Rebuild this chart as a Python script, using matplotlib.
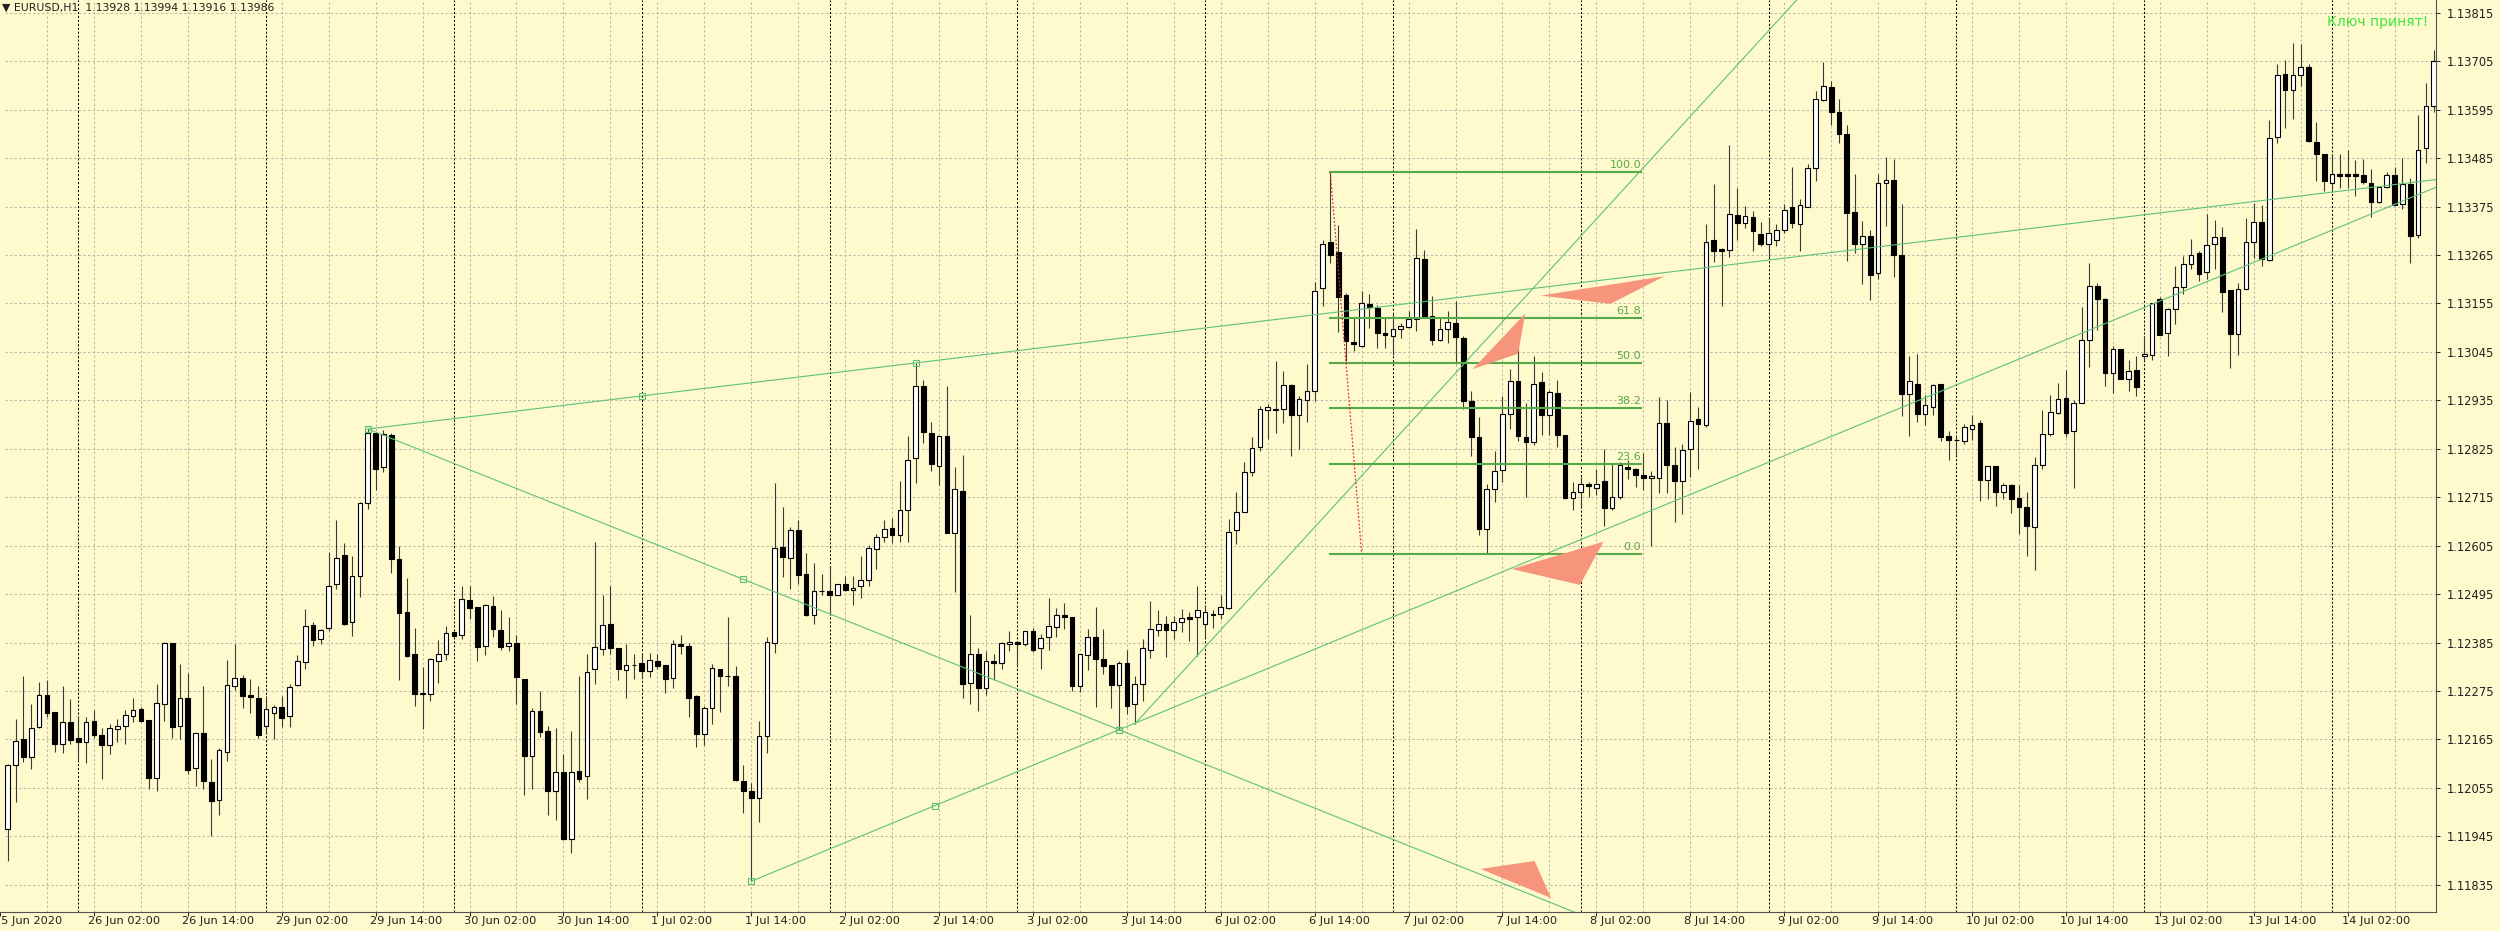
import numpy as np
import matplotlib.pyplot as plt
from matplotlib.patches import Polygon
import matplotlib.transforms as mtransforms

#-------------- data (EURUSD H1, 25 Jun 15:00 .. 14 Jul 12:00) --------------
opens = [
    1.11961, 1.12107, 1.12165, 1.12125, 1.12194, 1.12267, 1.12228, 1.12154, 1.12205, 1.12168,
    1.12160, 1.12208, 1.12174, 1.12152, 1.12188, 1.12196, 1.12219, 1.12234, 1.12209, 1.12078,
    1.12245, 1.12384, 1.12196, 1.12260, 1.12101, 1.12180, 1.12068, 1.12027, 1.12137, 1.12287,
    1.12305, 1.12265, 1.12260, 1.12196, 1.12226, 1.12238, 1.12219, 1.12288, 1.12341, 1.12424,
    1.12394, 1.12417, 1.12517, 1.12583, 1.12432, 1.12537, 1.12702, 1.12860, 1.12783, 1.12857,
    1.12575, 1.12455, 1.12358, 1.12269, 1.12269, 1.12343, 1.12360, 1.12409, 1.12402, 1.12481,
    1.12466, 1.12377, 1.12469, 1.12414, 1.12377, 1.12383, 1.12302, 1.12127, 1.12229, 1.12185,
    1.12047, 1.12090, 1.11939, 1.12094, 1.12081, 1.12326, 1.12371, 1.12427, 1.12373, 1.12322,
    1.12334, 1.12339, 1.12320, 1.12343, 1.12333, 1.12304, 1.12382, 1.12378, 1.12263, 1.12177,
    1.12236, 1.12325, 1.12310, 1.12308, 1.12071, 1.12049, 1.12031, 1.12173, 1.12383, 1.12602,
    1.12576, 1.12640, 1.12540, 1.12448, 1.12503, 1.12503, 1.12494, 1.12517, 1.12505, 1.12513,
    1.12527, 1.12598, 1.12624, 1.12646, 1.12629, 1.12685, 1.12803, 1.12967, 1.12862, 1.12786,
    1.12853, 1.12634, 1.12730, 1.12294, 1.12359, 1.12282, 1.12343, 1.12339, 1.12382, 1.12387,
    1.12381, 1.12412, 1.12372, 1.12398, 1.12420, 1.12447, 1.12443, 1.12286, 1.12356, 1.12397,
    1.12347, 1.12333, 1.12288, 1.12339, 1.12245, 1.12290, 1.12369, 1.12413, 1.12427, 1.12413,
    1.12431, 1.12442, 1.12442, 1.12427, 1.12451, 1.12450, 1.12464, 1.12641, 1.12681, 1.12773,
    1.12830, 1.12914, 1.12916, 1.12915, 1.12970, 1.12902, 1.12936, 1.12956, 1.13191, 1.13294,
    1.13271, 1.13175, 1.13068, 1.13058, 1.13153, 1.13145, 1.13087, 1.13081, 1.13096, 1.13102,
    1.13120, 1.13256, 1.13126, 1.13071, 1.13098, 1.13110, 1.13077, 1.12934, 1.12852, 1.12643,
    1.12734, 1.12777, 1.12904, 1.12979, 1.12852, 1.12841, 1.12976, 1.12902, 1.12952, 1.12856,
    1.12714, 1.12727, 1.12746, 1.12737, 1.12751, 1.12690, 1.12716, 1.12784, 1.12778, 1.12765,
    1.12759, 1.12759, 1.12884, 1.12789, 1.12752, 1.12824, 1.12893, 1.12880, 1.13299, 1.13278,
    1.13276, 1.13356, 1.13337, 1.13352, 1.13312, 1.13290, 1.13299, 1.13322, 1.13373, 1.13335,
    1.13374, 1.13462, 1.13616, 1.13646, 1.13590, 1.13540, 1.13362, 1.13290, 1.13309, 1.13224,
    1.13429, 1.13436, 1.13264, 1.12950, 1.12972, 1.12903, 1.12920, 1.12972, 1.12854, 1.12845,
    1.12843, 1.12871, 1.12884, 1.12754, 1.12786, 1.12726, 1.12743, 1.12713, 1.12692, 1.12648,
    1.12788, 1.12858, 1.12907, 1.12941, 1.12866, 1.12929, 1.13071, 1.13194, 1.13166, 1.12996,
    1.13052, 1.12983, 1.13004, 1.13035, 1.13039, 1.13165, 1.13087, 1.13143, 1.13193, 1.13244,
    1.13269, 1.13226, 1.13290, 1.13306, 1.13186, 1.13086, 1.13188, 1.13295, 1.13339, 1.13254,
    1.13533, 1.13675, 1.13639, 1.13673, 1.13692, 1.13522, 1.13495, 1.13428, 1.13448, 1.13448,
    1.13448, 1.13446, 1.13429, 1.13386, 1.13420, 1.13446, 1.13382, 1.13427, 1.13310, 1.13509,
    1.13603,
]
highs = [
    1.12110, 1.12211, 1.12310, 1.12245, 1.12296, 1.12300, 1.12228, 1.12287, 1.12257, 1.12213,
    1.12217, 1.12232, 1.12192, 1.12199, 1.12211, 1.12232, 1.12258, 1.12239, 1.12209, 1.12292,
    1.12386, 1.12385, 1.12337, 1.12315, 1.12183, 1.12287, 1.12121, 1.12146, 1.12345, 1.12381,
    1.12311, 1.12303, 1.12287, 1.12264, 1.12243, 1.12263, 1.12292, 1.12356, 1.12462, 1.12432,
    1.12415, 1.12591, 1.12664, 1.12611, 1.12581, 1.12704, 1.12870, 1.12864, 1.12867, 1.12862,
    1.12604, 1.12532, 1.12419, 1.12330, 1.12349, 1.12391, 1.12423, 1.12410, 1.12513, 1.12513,
    1.12466, 1.12473, 1.12491, 1.12458, 1.12442, 1.12402, 1.12302, 1.12236, 1.12274, 1.12196,
    1.12190, 1.12133, 1.12185, 1.12308, 1.12358, 1.12614, 1.12494, 1.12514, 1.12373, 1.12382,
    1.12359, 1.12361, 1.12361, 1.12359, 1.12333, 1.12391, 1.12402, 1.12383, 1.12266, 1.12240,
    1.12337, 1.12325, 1.12444, 1.12332, 1.12108, 1.12065, 1.12207, 1.12397, 1.12748, 1.12693,
    1.12647, 1.12663, 1.12588, 1.12566, 1.12540, 1.12559, 1.12518, 1.12537, 1.12537, 1.12582,
    1.12606, 1.12632, 1.12664, 1.12667, 1.12753, 1.12853, 1.13020, 1.12981, 1.12886, 1.12854,
    1.12968, 1.12783, 1.12812, 1.12447, 1.12373, 1.12366, 1.12358, 1.12387, 1.12411, 1.12387,
    1.12412, 1.12418, 1.12405, 1.12486, 1.12464, 1.12475, 1.12443, 1.12360, 1.12416, 1.12465,
    1.12416, 1.12333, 1.12343, 1.12369, 1.12309, 1.12393, 1.12480, 1.12460, 1.12445, 1.12445,
    1.12462, 1.12454, 1.12513, 1.12471, 1.12460, 1.12492, 1.12666, 1.12728, 1.12794, 1.12852,
    1.12923, 1.12926, 1.13024, 1.13002, 1.12972, 1.12945, 1.13017, 1.13203, 1.13298, 1.13453,
    1.13334, 1.13178, 1.13125, 1.13184, 1.13176, 1.13151, 1.13123, 1.13134, 1.13111, 1.13139,
    1.13323, 1.13277, 1.13172, 1.13123, 1.13138, 1.13160, 1.13081, 1.12956, 1.12898, 1.12745,
    1.12821, 1.12945, 1.13006, 1.13066, 1.12930, 1.13035, 1.12999, 1.12958, 1.12982, 1.12856,
    1.12750, 1.12761, 1.12750, 1.12778, 1.12824, 1.12791, 1.12795, 1.12799, 1.12782, 1.12816,
    1.12775, 1.12942, 1.12935, 1.12829, 1.12835, 1.12954, 1.12920, 1.13335, 1.13427, 1.13280,
    1.13515, 1.13418, 1.13377, 1.13364, 1.13339, 1.13348, 1.13335, 1.13382, 1.13466, 1.13392,
    1.13471, 1.13637, 1.13703, 1.13660, 1.13620, 1.13560, 1.13450, 1.13342, 1.13322, 1.13450,
    1.13487, 1.13483, 1.13381, 1.13035, 1.13041, 1.12947, 1.12973, 1.12972, 1.12865, 1.12854,
    1.12881, 1.12901, 1.12890, 1.12787, 1.12786, 1.12747, 1.12745, 1.12743, 1.12728, 1.12807,
    1.12914, 1.12947, 1.12975, 1.13005, 1.12935, 1.13147, 1.13247, 1.13201, 1.13168, 1.13058,
    1.13052, 1.13027, 1.13035, 1.13082, 1.13157, 1.13170, 1.13144, 1.13241, 1.13263, 1.13301,
    1.13275, 1.13358, 1.13345, 1.13328, 1.13186, 1.13201, 1.13348, 1.13383, 1.13378, 1.13571,
    1.13699, 1.13707, 1.13747, 1.13745, 1.13699, 1.13568, 1.13495, 1.13495, 1.13495, 1.13503,
    1.13480, 1.13484, 1.13460, 1.13422, 1.13454, 1.13465, 1.13486, 1.13441, 1.13583, 1.13656,
    1.13731,
]
lows = [
    1.11888, 1.12024, 1.12113, 1.12098, 1.12190, 1.12217, 1.12137, 1.12135, 1.12154, 1.12113,
    1.12111, 1.12169, 1.12075, 1.12131, 1.12160, 1.12155, 1.12205, 1.12205, 1.12053, 1.12047,
    1.12207, 1.12169, 1.12166, 1.12086, 1.12060, 1.12053, 1.11946, 1.11994, 1.12117, 1.12277,
    1.12237, 1.12226, 1.12169, 1.12177, 1.12166, 1.12193, 1.12193, 1.12287, 1.12324, 1.12377,
    1.12381, 1.12411, 1.12506, 1.12426, 1.12400, 1.12488, 1.12688, 1.12732, 1.12772, 1.12543,
    1.12300, 1.12352, 1.12241, 1.12189, 1.12253, 1.12293, 1.12346, 1.12399, 1.12392, 1.12438,
    1.12343, 1.12357, 1.12398, 1.12368, 1.12366, 1.12245, 1.12038, 1.12053, 1.12171, 1.11994,
    1.11981, 1.11937, 1.11907, 1.12068, 1.12030, 1.12292, 1.12356, 1.12359, 1.12301, 1.12259,
    1.12302, 1.12304, 1.12306, 1.12324, 1.12271, 1.12282, 1.12359, 1.12217, 1.12148, 1.12152,
    1.12199, 1.12227, 1.12286, 1.12071, 1.11998, 1.11843, 1.11977, 1.12134, 1.12361, 1.12533,
    1.12506, 1.12517, 1.12446, 1.12428, 1.12493, 1.12448, 1.12494, 1.12501, 1.12470, 1.12486,
    1.12513, 1.12551, 1.12614, 1.12612, 1.12614, 1.12614, 1.12748, 1.12839, 1.12775, 1.12743,
    1.12634, 1.12499, 1.12260, 1.12246, 1.12230, 1.12267, 1.12301, 1.12324, 1.12366, 1.12329,
    1.12377, 1.12363, 1.12326, 1.12368, 1.12397, 1.12415, 1.12276, 1.12273, 1.12322, 1.12239,
    1.12314, 1.12236, 1.12187, 1.12222, 1.12200, 1.12252, 1.12350, 1.12401, 1.12353, 1.12392,
    1.12409, 1.12388, 1.12354, 1.12396, 1.12418, 1.12439, 1.12462, 1.12609, 1.12681, 1.12764,
    1.12819, 1.12847, 1.12862, 1.12883, 1.12809, 1.12824, 1.12885, 1.12934, 1.13149, 1.13247,
    1.13091, 1.13024, 1.13047, 1.13057, 1.13100, 1.13055, 1.13055, 1.13038, 1.13077, 1.13100,
    1.13092, 1.13124, 1.13061, 1.13070, 1.13066, 1.13018, 1.12915, 1.12809, 1.12630, 1.12587,
    1.12704, 1.12749, 1.12870, 1.12843, 1.12715, 1.12833, 1.12856, 1.12856, 1.12829, 1.12712,
    1.12686, 1.12690, 1.12716, 1.12720, 1.12650, 1.12686, 1.12712, 1.12756, 1.12739, 1.12731,
    1.12605, 1.12724, 1.12725, 1.12659, 1.12678, 1.12761, 1.12778, 1.12875, 1.13250, 1.13150,
    1.13261, 1.13299, 1.13327, 1.13275, 1.13286, 1.13261, 1.13286, 1.13316, 1.13327, 1.13275,
    1.13373, 1.13433, 1.13614, 1.13560, 1.13520, 1.13251, 1.13269, 1.13200, 1.13162, 1.13211,
    1.13332, 1.13215, 1.12899, 1.12854, 1.12886, 1.12879, 1.12901, 1.12842, 1.12799, 1.12811,
    1.12836, 1.12846, 1.12707, 1.12710, 1.12694, 1.12710, 1.12680, 1.12631, 1.12581, 1.12549,
    1.12778, 1.12854, 1.12905, 1.12852, 1.12735, 1.12929, 1.13011, 1.13094, 1.12967, 1.12952,
    1.12983, 1.12956, 1.12946, 1.13024, 1.13026, 1.13084, 1.13035, 1.13109, 1.13177, 1.13233,
    1.13207, 1.13210, 1.13233, 1.13135, 1.13009, 1.13039, 1.13188, 1.13258, 1.13241, 1.13252,
    1.13520, 1.13554, 1.13573, 1.13648, 1.13522, 1.13432, 1.13411, 1.13408, 1.13417, 1.13418,
    1.13399, 1.13426, 1.13352, 1.13384, 1.13417, 1.13377, 1.13369, 1.13248, 1.13303, 1.13473,
    1.13590,
]
closes = [
    1.12107, 1.12162, 1.12126, 1.12192, 1.12267, 1.12226, 1.12155, 1.12205, 1.12164, 1.12160,
    1.12205, 1.12174, 1.12152, 1.12192, 1.12196, 1.12221, 1.12232, 1.12207, 1.12077, 1.12247,
    1.12384, 1.12194, 1.12260, 1.12096, 1.12180, 1.12071, 1.12026, 1.12140, 1.12288, 1.12305,
    1.12264, 1.12261, 1.12175, 1.12234, 1.12239, 1.12214, 1.12285, 1.12343, 1.12423, 1.12391,
    1.12414, 1.12513, 1.12576, 1.12428, 1.12537, 1.12702, 1.12860, 1.12780, 1.12858, 1.12575,
    1.12453, 1.12355, 1.12269, 1.12270, 1.12347, 1.12360, 1.12406, 1.12400, 1.12483, 1.12464,
    1.12375, 1.12470, 1.12415, 1.12374, 1.12383, 1.12307, 1.12127, 1.12230, 1.12183, 1.12049,
    1.12090, 1.11939, 1.12090, 1.12075, 1.12318, 1.12376, 1.12426, 1.12372, 1.12324, 1.12334,
    1.12334, 1.12320, 1.12345, 1.12331, 1.12302, 1.12382, 1.12378, 1.12259, 1.12177, 1.12237,
    1.12328, 1.12310, 1.12308, 1.12073, 1.12049, 1.12032, 1.12173, 1.12386, 1.12600, 1.12579,
    1.12640, 1.12539, 1.12448, 1.12503, 1.12503, 1.12493, 1.12517, 1.12505, 1.12510, 1.12527,
    1.12600, 1.12625, 1.12644, 1.12630, 1.12685, 1.12800, 1.12967, 1.12864, 1.12791, 1.12853,
    1.12634, 1.12734, 1.12290, 1.12359, 1.12282, 1.12343, 1.12339, 1.12383, 1.12387, 1.12382,
    1.12412, 1.12368, 1.12396, 1.12422, 1.12447, 1.12443, 1.12286, 1.12358, 1.12397, 1.12347,
    1.12332, 1.12288, 1.12339, 1.12241, 1.12290, 1.12373, 1.12415, 1.12428, 1.12413, 1.12431,
    1.12441, 1.12439, 1.12458, 1.12454, 1.12447, 1.12465, 1.12637, 1.12681, 1.12773, 1.12826,
    1.12915, 1.12921, 1.12912, 1.12970, 1.12902, 1.12938, 1.12956, 1.13184, 1.13291, 1.13264,
    1.13169, 1.13070, 1.13064, 1.13155, 1.13147, 1.13089, 1.13083, 1.13096, 1.13104, 1.13120,
    1.13259, 1.13126, 1.13071, 1.13098, 1.13113, 1.13079, 1.12934, 1.12852, 1.12643, 1.12734,
    1.12775, 1.12904, 1.12979, 1.12855, 1.12841, 1.12973, 1.12902, 1.12954, 1.12857, 1.12714,
    1.12727, 1.12745, 1.12740, 1.12744, 1.12690, 1.12716, 1.12788, 1.12780, 1.12765, 1.12759,
    1.12763, 1.12884, 1.12788, 1.12752, 1.12822, 1.12888, 1.12882, 1.13295, 1.13275, 1.13275,
    1.13358, 1.13337, 1.13354, 1.13320, 1.13290, 1.13316, 1.13322, 1.13368, 1.13337, 1.13379,
    1.13463, 1.13620, 1.13648, 1.13590, 1.13540, 1.13360, 1.13290, 1.13309, 1.13220, 1.13428,
    1.13436, 1.13266, 1.12950, 1.12978, 1.12905, 1.12924, 1.12971, 1.12851, 1.12845, 1.12845,
    1.12875, 1.12879, 1.12754, 1.12786, 1.12728, 1.12743, 1.12711, 1.12692, 1.12650, 1.12788,
    1.12858, 1.12909, 1.12938, 1.12862, 1.12929, 1.13071, 1.13194, 1.13166, 1.12996, 1.13052,
    1.12984, 1.13002, 1.12965, 1.13041, 1.13155, 1.13084, 1.13143, 1.13193, 1.13244, 1.13266,
    1.13222, 1.13288, 1.13306, 1.13180, 1.13086, 1.13188, 1.13295, 1.13340, 1.13256, 1.13530,
    1.13673, 1.13639, 1.13673, 1.13691, 1.13524, 1.13495, 1.13432, 1.13448, 1.13444, 1.13444,
    1.13444, 1.13431, 1.13386, 1.13420, 1.13446, 1.13378, 1.13426, 1.13309, 1.13503, 1.13603,
    1.13705,
]

# time axis: one label every 12 bars, first one (-1) is 25 Jun 14:00
time_labels = ['25 Jun 2020', '26 Jun 02:00', '26 Jun 14:00', '29 Jun 02:00', '29 Jun 14:00',
               '30 Jun 02:00', '30 Jun 14:00', '1 Jul 02:00', '1 Jul 14:00', '2 Jul 02:00',
               '2 Jul 14:00', '3 Jul 02:00', '3 Jul 14:00', '6 Jul 02:00', '6 Jul 14:00',
               '7 Jul 02:00', '7 Jul 14:00', '8 Jul 02:00', '8 Jul 14:00', '9 Jul 02:00',
               '9 Jul 14:00', '10 Jul 02:00', '10 Jul 14:00', '13 Jul 02:00', '13 Jul 14:00',
               '14 Jul 02:00']
first_label_bar = -1
day_starts = [9, 33, 57, 81, 105, 129, 153, 177, 201, 225, 249, 273, 297]

price_labels = ['1.13815', '1.13705', '1.13595', '1.13485', '1.13375', '1.13265', '1.13155',
                '1.13045', '1.12935', '1.12825', '1.12715', '1.12605', '1.12495', '1.12385',
                '1.12275', '1.12165', '1.12055', '1.11945', '1.11835']

# trend lines: (bar, price) anchors, drawn as rays to the right
line_a = [(46, 1.12870), (116, 1.13020)]
line_b = [(46, 1.12870), (142, 1.12187)]
line_c = [(95, 1.11843), (142, 1.12187)]
line_d = [(144, 1.12200), (156.4, 1.12441)]

# fibonacci retracement
fib_high = (169, 1.13453)
fib_low = (173, 1.12587)
fib_end = 208.7
fib_levels = [0.0, 23.6, 38.2, 50.0, 61.8, 100.0]

triangles = [
    [(187.2, 1.13006), (193.9, 1.13132), (193.0, 1.13041)],
    [(195.9, 1.13173), (211.7, 1.13217), (204.8, 1.13154)],
    [(192.2, 1.12552), (203.9, 1.12614), (200.9, 1.12516)],
    [(188.2, 1.11871), (195.1, 1.11889), (197.2, 1.11805)],
]
#----------------------------------------------------------------------------

W, H = 2500, 931
BG = '#fffacd'
GRID = '#b9b9ab'
TL = '#5cc27a'
FIB = '#56a849'

n = min(len(opens), len(highs), len(lows), len(closes))
o = np.array(opens[:n]); h = np.array(highs[:n])
l = np.array(lows[:n]); c = np.array(closes[:n])
h = np.maximum(h, np.maximum(o, c))
l = np.minimum(l, np.minimum(o, c))
idx = np.arange(n)

fig = plt.figure(figsize=(W / 100, H / 100), dpi=100)
fig.patch.set_facecolor(BG)
ax = fig.add_axes([0, (H - 912) / H, 2436 / W, 912 / H])
ax.set_facecolor(BG)

x0, x1 = -0.42, 310.29
y0, y1 = 1.117732, 1.138441
ax.set_xlim(x0, x1)
ax.set_ylim(y0, y1)

price_vals = [float(p) for p in price_labels]
label_bars = [first_label_bar + 12 * k for k in range(len(time_labels))]
grid_bars = list(range(5, n + 1, 6))

# grid + separators
ax.hlines(price_vals, x0, x1, colors=GRID, lw=0.75, linestyles=(0, (2.2, 2.2)), zorder=1)
ax.vlines(grid_bars, y0, y1, colors=GRID, lw=0.75, linestyles=(0, (2.2, 2.2)), zorder=1)
ax.vlines(day_starts, y0, y1, colors='black', lw=0.75, linestyles=(0, (2.0, 1.8)), zorder=1)

# candles
up = c >= o
ax.vlines(idx, l, h, colors='#3a3a3a', lw=0.8, zorder=3)
ax.bar(idx[up], (c - o)[up], bottom=o[up], width=0.6, color='white',
       edgecolor='black', lw=0.8, zorder=4)
ax.bar(idx[~up], (o - c)[~up], bottom=c[~up], width=0.6, color='black',
       edgecolor='black', lw=0.8, zorder=4)


def ray(p, q):
    (xa, ya), (xb, yb) = p, q
    k = (yb - ya) / (xb - xa)
    return [xa, x1 + 5], [ya, ya + k * (x1 + 5 - xa)]


for ln in (line_a, line_b, line_c, line_d):
    xs, ys = ray(*ln)
    ax.plot(xs, ys, color=TL, lw=0.8, zorder=5)

for ln in (line_a, line_b, line_c):
    (xa, ya), (xb, yb) = ln
    ax.plot([xa, (xa + xb) / 2, xb], [ya, (ya + yb) / 2, yb], ls='none', marker='s',
            ms=4, mfc='none', mec=TL, mew=0.8, zorder=6)

# fibonacci
rng = fib_high[1] - fib_low[1]
for lev in fib_levels:
    yy = fib_low[1] + rng * lev / 100
    ax.plot([fib_high[0], fib_end], [yy, yy], color=FIB, lw=1.5, zorder=5)
    ax.text(fib_end, yy + 0.00004, '%.1f' % lev, color=FIB, fontsize=8,
            ha='right', va='bottom', zorder=6)
ax.plot([fib_high[0], fib_low[0]], [fib_high[1], fib_low[1]], color='#e0302a',
        lw=0.9, ls=(0, (1.5, 1.5)), zorder=5)

for tri in triangles:
    ax.add_patch(Polygon(tri, closed=True, fc='#f6957b', ec='none', zorder=6))

# axes look
for s in ('top', 'left'):
    ax.spines[s].set_visible(False)
for s in ('right', 'bottom'):
    ax.spines[s].set_color('#505050')
    ax.spines[s].set_linewidth(0.8)

ax.yaxis.tick_right()
ax.set_yticks(price_vals)
ax.set_yticklabels(price_labels, fontsize=8.3, color='#202020')
ax.tick_params(axis='y', length=3, width=0.7, pad=5, colors='#202020')
ax.set_xticks(label_bars)
ax.set_xticklabels([])
ax.tick_params(axis='x', length=3, width=0.7, colors='#202020')

off = mtransforms.ScaledTranslation(-6 / 100, 0, fig.dpi_scale_trans)
tr = mtransforms.blended_transform_factory(ax.transData, ax.transAxes) + off
for b, lab in zip(label_bars, time_labels):
    ax.text(b, -8.5 / 912, lab, transform=tr, fontsize=8.2, color='#202020',
            ha='left', va='center', clip_on=False)

fig.text(2 / W, 1 - 8 / H, '\u25bc EURUSD,H1  1.13928 1.13994 1.13916 1.13986',
         fontsize=7.8, color='#202020', va='center', ha='left')
fig.text(2428 / W, 1 - 22 / H, 'Ключ принят!', fontsize=10, color='#3ee83e',
         va='center', ha='right')

fig.savefig('out.png', dpi=100, facecolor=BG)
